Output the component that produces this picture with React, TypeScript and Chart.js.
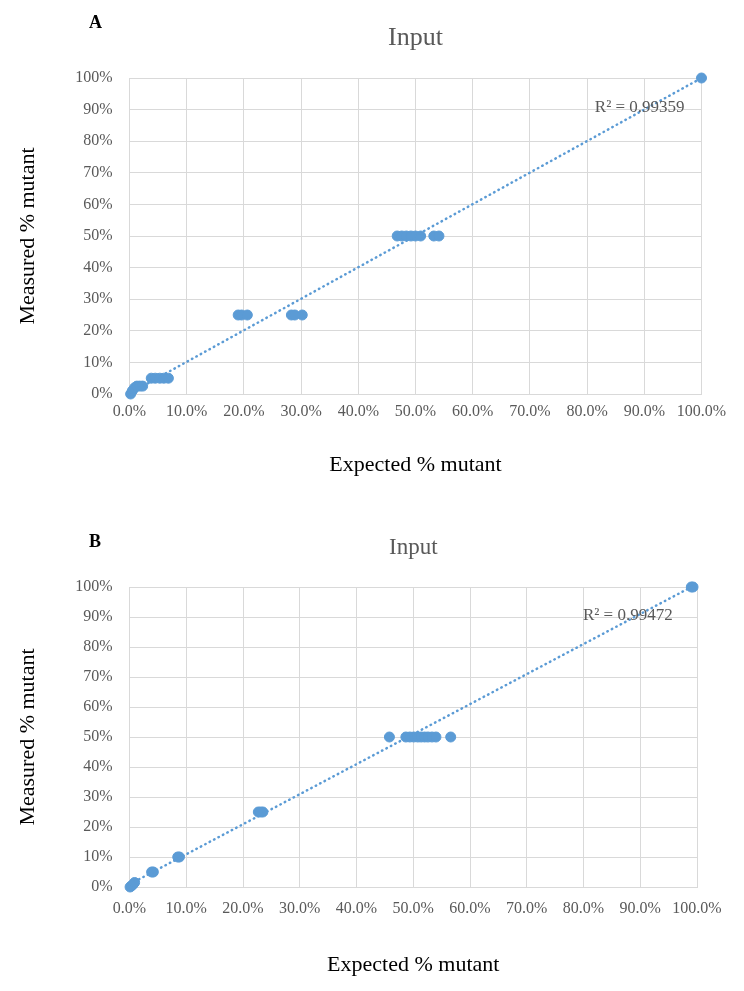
import { useEffect, useRef } from 'react'
import { Chart, registerables } from 'chart.js'

Chart.register(...registerables)

const BLUE = '#5B9BD5'
const GRID = '#D9D9D9'
const GREY_TEXT = '#595959'
const SERIF = '"Liberation Serif", "Times New Roman", serif'

const xTickValues = [0, 10, 20, 30, 40, 50, 60, 70, 80, 90, 100]
const yTickValues = [0, 10, 20, 30, 40, 50, 60, 70, 80, 90, 100]

// panel A
const aExpected = [0.2, 0.5, 0.9, 1.3, 1.8, 2.3, 3.8, 4.5, 5.3, 6.0, 6.8, 19.0, 19.6, 20.6, 28.3, 28.9, 30.2, 46.8, 47.6, 48.4, 49.2, 50.0, 50.9, 53.2, 54.1, 100]
const aMeasured = [0, 1, 2, 2.5, 2.5, 2.5, 5, 5, 5, 5, 5, 25, 25, 25, 25, 25, 25, 50, 50, 50, 50, 50, 50, 50, 50, 100]
const aTrendX = [0.2, 100]
const aTrendY = [0.4, 100]
const aR2 = 'R² = 0.99359'
const aR2At = [89.2, 90.6]

// panel B
const bExpected = [0.1, 0.3, 0.6, 0.9, 3.9, 4.2, 8.5, 8.8, 22.7, 23.1, 23.5, 45.8, 48.7, 49.4, 50.1, 50.8, 51.4, 52.0, 52.6, 53.3, 54.0, 56.6, 99.0, 99.3]
const bMeasured = [0, 0.3, 0.8, 1.5, 5, 5, 10, 10, 25, 25, 25, 50, 50, 50, 50, 50, 50, 50, 50, 50, 50, 50, 100, 100]
const bTrendX = [0.1, 99.3]
const bTrendY = [1.0, 100.3]
const bR2 = 'R² = 0.99472'
const bR2At = [87.8, 90.6]

const panelText = {
  id: 'panelText',
  afterDraw(chart: any, _args: any, opts: any) {
    const { ctx, chartArea, scales } = chart
    ctx.save()
    ctx.textBaseline = 'middle'
    ctx.fillStyle = '#000'
    ctx.textAlign = 'left'
    ctx.font = `bold 18px ${SERIF}`
    ctx.fillText(opts.letter, opts.letterX, opts.letterY)
    ctx.fillStyle = GREY_TEXT
    ctx.textAlign = 'center'
    ctx.font = `${opts.titleSize}px ${SERIF}`
    ctx.fillText(opts.title, (chartArea.left + chartArea.right) / 2, opts.titleY)
    ctx.font = `17px ${SERIF}`
    ctx.fillText(opts.r2, scales.x.getPixelForValue(opts.r2At[0]), scales.y.getPixelForValue(opts.r2At[1]))
    ctx.restore()
  }
}

type PanelProps = {
  letter: string
  xs: number[]
  ys: number[]
  trendX: number[]
  trendY: number[]
  r2: string
  r2At: number[]
  height: number
  left: number
  right: number
  top: number
  bottom: number
  titleSize: number
  titleY: number
  letterY: number
  xTickPad: number
  xTitlePad: number
}

function Panel(p: PanelProps) {
  const chartRef = useRef<HTMLCanvasElement>(null)
  const chartInstance = useRef<Chart | null>(null)

  useEffect(() => {
    if (!chartRef.current) return
    if (chartInstance.current) chartInstance.current.destroy()
    const ctx = chartRef.current.getContext('2d')
    if (!ctx) return

    const tickFont = { family: SERIF, size: 16 }
    const titleFont = { family: SERIF, size: 22 }

    chartInstance.current = new Chart(ctx, {
      type: 'scatter',
      data: {
        datasets: [
          {
            type: 'line',
            data: p.trendX.map((x, i) => ({ x, y: p.trendY[i] })),
            borderColor: BLUE,
            borderWidth: 2.5,
            borderDash: [0.5, 4.5],
            borderCapStyle: 'round',
            pointRadius: 0,
            fill: false,
            clip: false,
            order: 0
          } as any,
          {
            data: p.xs.map((x, i) => ({ x, y: p.ys[i] })),
            backgroundColor: BLUE,
            borderColor: BLUE,
            pointRadius: 5,
            pointBorderWidth: 1,
            clip: false,
            order: 1
          } as any
        ]
      },
      options: {
        animation: false,
        responsive: false,
        maintainAspectRatio: false,
        layout: { padding: { top: p.top, right: 744 - p.right, left: 0, bottom: 0 } },
        plugins: {
          legend: { display: false },
          tooltip: { enabled: false },
          panelText: {
            letter: p.letter,
            letterX: 89,
            letterY: p.letterY,
            title: 'Input',
            titleSize: p.titleSize,
            titleY: p.titleY,
            r2: p.r2,
            r2At: p.r2At
          }
        } as any,
        scales: {
          x: {
            type: 'linear',
            min: 0,
            max: 100,
            afterBuildTicks: (s: any) => { s.ticks = xTickValues.map(value => ({ value })) },
            afterFit: (s: any) => { s.height = p.height - p.bottom },
            grid: { color: GRID, drawTicks: false },
            border: { color: GRID },
            ticks: {
              padding: p.xTickPad,
              color: GREY_TEXT,
              font: tickFont,
              maxRotation: 0,
              autoSkip: false,
              callback: (v: any) => Number(v).toFixed(1) + '%'
            },
            title: {
              display: true,
              text: 'Expected % mutant',
              color: '#000',
              font: titleFont,
              padding: { top: 0, bottom: p.xTitlePad }
            }
          },
          y: {
            type: 'linear',
            min: 0,
            max: 100,
            afterBuildTicks: (s: any) => { s.ticks = yTickValues.map(value => ({ value })) },
            afterFit: (s: any) => { s.width = p.left },
            grid: { color: GRID, drawTicks: false },
            border: { color: GRID },
            ticks: {
              padding: 17,
              color: GREY_TEXT,
              font: tickFont,
              autoSkip: false,
              callback: (v: any) => v + '%'
            },
            title: {
              display: true,
              text: 'Measured % mutant',
              color: '#000',
              font: titleFont,
              padding: { top: 15, bottom: 0 }
            }
          }
        }
      },
      plugins: [panelText]
    })

    return () => {
      if (chartInstance.current) chartInstance.current.destroy()
      chartInstance.current = null
    }
  }, [])

  return (
    <canvas
      ref={chartRef}
      width={744}
      height={p.height}
      style={{ display: 'block', width: 744, height: p.height }}
    />
  )
}

export default function App() {
  return (
    <div style={{ position: 'absolute', top: 0, left: 0, width: 744, height: 991, background: '#fff' }}>
      <Panel
        letter="A"
        xs={aExpected}
        ys={aMeasured}
        trendX={aTrendX}
        trendY={aTrendY}
        r2={aR2}
        r2At={aR2At}
        height={495}
        left={129.5}
        right={701.5}
        top={78}
        bottom={394}
        titleSize={26}
        titleY={38}
        letterY={23}
        xTickPad={8}
        xTitlePad={17}
      />
      <Panel
        letter="B"
        xs={bExpected}
        ys={bMeasured}
        trendX={bTrendX}
        trendY={bTrendY}
        r2={bR2}
        r2At={bR2At}
        height={496}
        left={129.5}
        right={697}
        top={92}
        bottom={392}
        titleSize={23}
        titleY={53}
        letterY={47}
        xTickPad={12}
        xTitlePad={13}
      />
    </div>
  )
}
